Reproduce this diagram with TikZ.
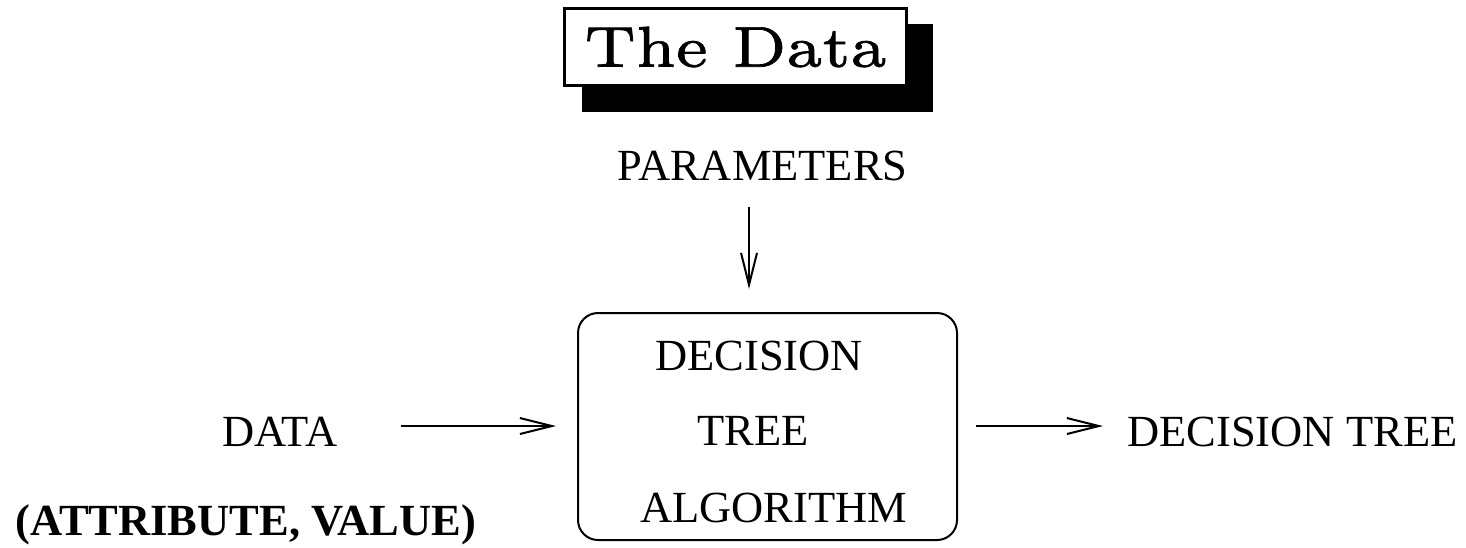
\documentclass[tikz,border=0pt]{standalone}
\usepackage{fontspec}
\newfontfamily\tnr{Liberation Serif}
\newfontfamily\lmheavy{lmroman7-regular}[Extension=.otf,FakeBold=1.2]
\usetikzlibrary{arrows.meta,backgrounds}
\begin{document}
\begin{tikzpicture}[x=0.5pt,y=-0.5pt,
  lbl/.style={inner sep=0pt,anchor=base west,font=\tnr\fontsize{22.25pt}{26pt}\selectfont},
  arr/.style={line width=1pt,-{Straight Barb[length=16pt,width=8pt,line width=1pt]}},
  algbox/.style={draw,line width=1pt,rounded corners=10pt,inner sep=0pt},
  titlebox/.style={draw,line width=1.5pt,fill=white,inner sep=0pt,minimum width=171pt,minimum height=38.5pt}]
\useasboundingbox (0,0) rectangle (1466,547);
% title
\node[titlebox] (title) at (735.5,47) {\resizebox{151pt}{20pt}{\lmheavy\fontsize{7}{8}\selectfont The Data}};
\begin{scope}[on background layer]
\fill ([shift={(19,17)}]title.north west) rectangle ([shift={(25,25)}]title.south east);
\end{scope}
% labels
\node[lbl] (params) at (617,180) {PARAMETERS};
\node[lbl] (data) at (222,446) {DATA};
\node[lbl] (out) at (1127,446) {DECISION TREE};
\node[lbl,font=\tnr\bfseries\fontsize{22.25pt}{26pt}\selectfont] (attr) at (15,535) {(ATTRIBUTE, VALUE)};
% box
\node[algbox,minimum width=189.5pt,minimum height=113.5pt] (box) at (767.5,426.5) {};
\node[lbl] (l1) at (655,370) {DECISION};
\node[lbl] (l2) at (697,445) {TREE};
\node[lbl] (l3) at (640,522) {ALGORITHM};
% connectors
\coordinate (ay) at (0,426);
\coordinate (vx) at (749,0);
\draw[arr,shorten <=31.5pt,shorten >=10.5pt] (data.east |- ay) -- (box.west |- ay);
\draw[arr,shorten <=9pt,shorten >=12pt] (box.east |- ay) -- (out.west |- ay);
\draw[arr,shorten <=13pt,shorten >=11.5pt] (vx |- params.south) -- (vx |- box.north);
\end{tikzpicture}
\end{document}
